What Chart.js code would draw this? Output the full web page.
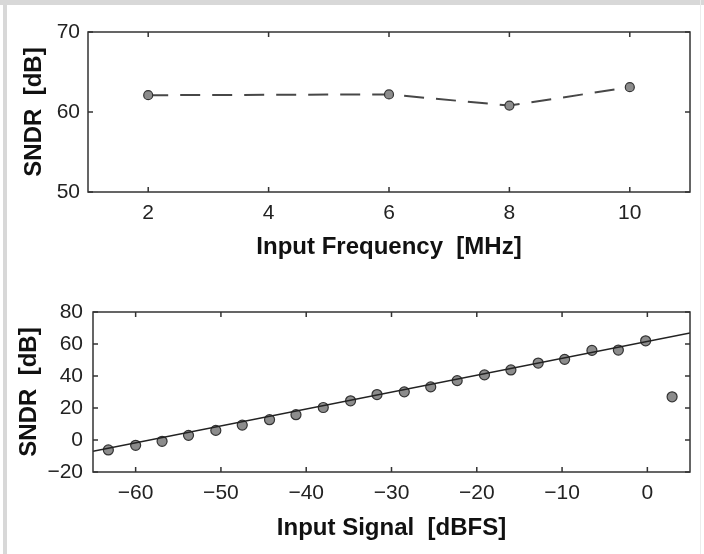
<!DOCTYPE html>
<html>
<head>
<meta charset="utf-8">
<script src="https://cdn.jsdelivr.net/npm/chart.js@4.4.0/dist/chart.umd.min.js"></script>
<style>
  body { margin: 0; background: #fff; }
  #wrap { position: relative; width: 704px; height: 554px; overflow: hidden; }
  #barTop { position: absolute; left: 0; top: 0; width: 704px; height: 5px; background: #d8d8d8; }
  #barLeft { position: absolute; left: 3px; top: 0; width: 4px; height: 554px; background: #d8d8d8; }
  #barRight { position: absolute; left: 700px; top: 0; width: 1px; height: 554px; background: #ececec; }
  canvas { position: absolute; left: 0; }
</style>
</head>
<body>
<div id="wrap">
  <div id="barTop"></div>
  <div id="barLeft"></div>
  <div id="barRight"></div>
  <canvas id="top" width="704" height="277" style="top:0"></canvas>
  <canvas id="bot" width="704" height="277" style="top:277px"></canvas>
</div>
<script>
// top panel: SNDR vs input frequency
const freqMHz = [2, 6, 8, 10];
const sndrFreq = [62.1, 62.2, 60.8, 63.1];
const freqTicks = [2, 4, 6, 8, 10];
const sndrTopTicks = [50, 60, 70];

// bottom panel: SNDR vs input signal level
const inputDbfs = [-63.2, -60.0, -56.9, -53.8, -50.6, -47.5, -44.3, -41.2, -38.0, -34.8, -31.7,
                   -28.5, -25.4, -22.3, -19.1, -16.0, -12.8, -9.7, -6.5, -3.4, -0.2, 2.9];
const sndrInput = [-6.2, -3.3, -0.8, 2.9, 6.0, 9.3, 12.7, 15.8, 20.3, 24.5, 28.4,
                   30.1, 33.2, 37.1, 40.7, 43.8, 48.1, 50.4, 56.0, 56.2, 62.0, 27.0];
const fitDbfs = [-65, 5];
const fitSndr = [-7.1, 66.9];
const dbfsTicks = [-60, -50, -40, -30, -20, -10, 0];
const sndrBotTicks = [-20, 0, 20, 40, 60, 80];

const FONT = "'Liberation Sans', Arial, Helvetica, sans-serif";
const minus = v => String(v).replace('-', '\u2212');

// box around plot + inward tick marks (matlab look)
const boxTicks = {
  id: 'boxTicks',
  afterDraw(chart) {
    const { ctx, chartArea: a, scales } = chart;
    const len = 5;
    ctx.save();
    ctx.strokeStyle = '#333';
    ctx.lineWidth = 1.5;
    ctx.strokeRect(a.left, a.top, a.right - a.left, a.bottom - a.top);
    ctx.beginPath();
    scales.x.ticks.forEach(t => {
      const px = scales.x.getPixelForValue(t.value);
      ctx.moveTo(px, a.bottom); ctx.lineTo(px, a.bottom - len);
      ctx.moveTo(px, a.top); ctx.lineTo(px, a.top + len);
    });
    scales.y.ticks.forEach(t => {
      const py = scales.y.getPixelForValue(t.value);
      ctx.moveTo(a.left, py); ctx.lineTo(a.left + len, py);
      ctx.moveTo(a.right, py); ctx.lineTo(a.right - len, py);
    });
    ctx.stroke();
    ctx.restore();
  }
};

function axes(o) {
  return {
    x: {
      type: 'linear', min: o.xmin, max: o.xmax,
      afterBuildTicks: s => { s.ticks = o.xticks.map(v => ({ value: v })); },
      afterFit: s => { s.height = o.xh; },
      grid: { display: false, drawTicks: false }, border: { display: false },
      ticks: { color: '#222', padding: o.xpad, font: { family: FONT, size: 21 }, callback: minus, maxRotation: 0 },
      title: { display: true, text: o.xtitle, color: '#111', padding: { top: 0, bottom: o.xtpad },
               font: { family: FONT, size: 24, weight: 'bold' } }
    },
    y: {
      type: 'linear', min: o.ymin, max: o.ymax,
      afterBuildTicks: s => { s.ticks = o.yticks.map(v => ({ value: v })); },
      afterFit: s => { s.width = o.yw; },
      grid: { display: false, drawTicks: false }, border: { display: false },
      ticks: { color: '#222', padding: o.ypad, font: { family: FONT, size: 21 }, callback: minus },
      title: { display: true, text: o.ytitle, color: '#111', padding: { top: o.ytpad, bottom: 0 },
               font: { family: FONT, size: 24, weight: 'bold' } }
    }
  };
}

new Chart(document.getElementById('top'), {
  type: 'scatter',
  data: {
    datasets: [{
      data: freqMHz.map((f, i) => ({ x: f, y: sndrFreq[i] })),
      showLine: true,
      borderColor: '#474747', borderWidth: 2, borderDash: [20, 12],
      pointRadius: 4.5, pointBackgroundColor: '#8c8c8c', pointBorderColor: '#333', pointBorderWidth: 1.2
    }]
  },
  options: {
    responsive: false, animation: false,
    layout: { padding: { left: 0, top: 32, right: 14, bottom: 0 } },
    plugins: { legend: { display: false }, tooltip: { enabled: false } },
    scales: axes({ xmin: 1, xmax: 11, xticks: freqTicks, xh: 85, xpad: 9, xtpad: 15,
                   xtitle: 'Input Frequency  [MHz]',
                   ymin: 50, ymax: 70, yticks: sndrTopTicks, yw: 88, ypad: 8, ytpad: 20,
                   ytitle: 'SNDR  [dB]' })
  },
  plugins: [boxTicks]
});

new Chart(document.getElementById('bot'), {
  type: 'scatter',
  data: {
    datasets: [{
      data: fitDbfs.map((x, i) => ({ x: x, y: fitSndr[i] })),
      showLine: true, borderColor: '#222', borderWidth: 1.5, pointRadius: 0, order: 0
    }, {
      data: inputDbfs.map((x, i) => ({ x: x, y: sndrInput[i] })),
      pointRadius: 5, pointBackgroundColor: '#8c8c8c', pointBorderColor: '#333', pointBorderWidth: 1.2, order: 1
    }]
  },
  options: {
    responsive: false, animation: false,
    layout: { padding: { left: 0, top: 35, right: 14, bottom: 0 } },
    plugins: { legend: { display: false }, tooltip: { enabled: false } },
    scales: axes({ xmin: -65, xmax: 5, xticks: dbfsTicks, xh: 82, xpad: 9, xtpad: 11,
                   xtitle: 'Input Signal  [dBFS]',
                   ymin: -20, ymax: 80, yticks: sndrBotTicks, yw: 93, ypad: 10, ytpad: 15,
                   ytitle: 'SNDR  [dB]' })
  },
  plugins: [boxTicks]
});
</script>
</body>
</html>
